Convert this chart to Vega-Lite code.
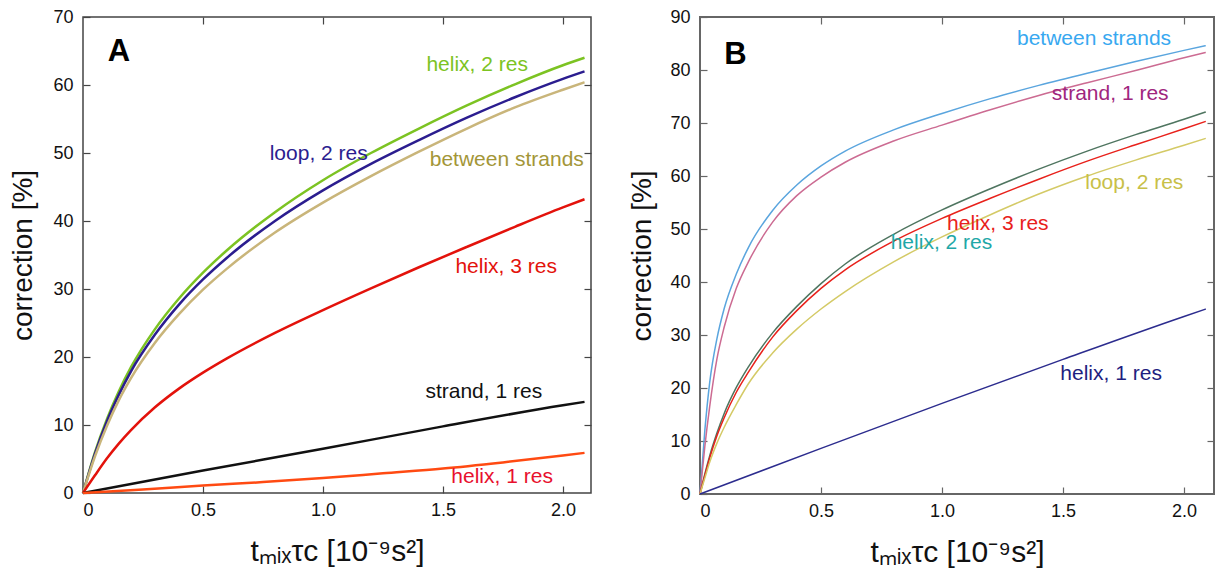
{
  "$schema": "https://vega.github.io/schema/vega-lite/v6.json",
  "padding": {"left": 9, "top": 7, "right": 0, "bottom": 0},
  "spacing": 34,
  "background": "white",
  "datasets": {
    "A": [
      {"series":"helix, 2 res","t":0,"corr":0},{"series":"helix, 2 res","t":0.05,"corr":6.0},{"series":"helix, 2 res","t":0.1,"corr":10.9},{"series":"helix, 2 res","t":0.15,"corr":15.0},{"series":"helix, 2 res","t":0.2,"corr":18.5},{"series":"helix, 2 res","t":0.3,"corr":24.1},{"series":"helix, 2 res","t":0.4,"corr":28.6},{"series":"helix, 2 res","t":0.5,"corr":32.4},{"series":"helix, 2 res","t":0.6,"corr":35.7},{"series":"helix, 2 res","t":0.8,"corr":41.3},{"series":"helix, 2 res","t":1.0,"corr":46.0},{"series":"helix, 2 res","t":1.2,"corr":50.0},{"series":"helix, 2 res","t":1.4,"corr":53.6},{"series":"helix, 2 res","t":1.6,"corr":57.0},{"series":"helix, 2 res","t":1.8,"corr":60.1},{"series":"helix, 2 res","t":2.0,"corr":62.9},{"series":"helix, 2 res","t":2.09,"corr":64.0},
      {"series":"loop, 2 res","t":0,"corr":0},{"series":"loop, 2 res","t":0.05,"corr":5.8},{"series":"loop, 2 res","t":0.1,"corr":10.55},{"series":"loop, 2 res","t":0.15,"corr":14.5},{"series":"loop, 2 res","t":0.2,"corr":17.9},{"series":"loop, 2 res","t":0.3,"corr":23.3},{"series":"loop, 2 res","t":0.4,"corr":27.7},{"series":"loop, 2 res","t":0.5,"corr":31.4},{"series":"loop, 2 res","t":0.6,"corr":34.6},{"series":"loop, 2 res","t":0.8,"corr":40.0},{"series":"loop, 2 res","t":1.0,"corr":44.5},{"series":"loop, 2 res","t":1.2,"corr":48.4},{"series":"loop, 2 res","t":1.4,"corr":51.9},{"series":"loop, 2 res","t":1.6,"corr":55.2},{"series":"loop, 2 res","t":1.8,"corr":58.2},{"series":"loop, 2 res","t":2.0,"corr":60.9},{"series":"loop, 2 res","t":2.09,"corr":62.0},
      {"series":"between strands","t":0,"corr":0},{"series":"between strands","t":0.05,"corr":5.4},{"series":"between strands","t":0.1,"corr":9.9},{"series":"between strands","t":0.15,"corr":13.7},{"series":"between strands","t":0.2,"corr":16.9},{"series":"between strands","t":0.3,"corr":22.1},{"series":"between strands","t":0.4,"corr":26.3},{"series":"between strands","t":0.5,"corr":29.9},{"series":"between strands","t":0.6,"corr":33.0},{"series":"between strands","t":0.8,"corr":38.3},{"series":"between strands","t":1.0,"corr":42.7},{"series":"between strands","t":1.2,"corr":46.6},{"series":"between strands","t":1.4,"corr":50.2},{"series":"between strands","t":1.6,"corr":53.6},{"series":"between strands","t":1.8,"corr":56.7},{"series":"between strands","t":2.0,"corr":59.3},{"series":"between strands","t":2.09,"corr":60.4},
      {"series":"helix, 3 res","t":0,"corr":0},{"series":"helix, 3 res","t":0.05,"corr":2.6},{"series":"helix, 3 res","t":0.1,"corr":5.1},{"series":"helix, 3 res","t":0.15,"corr":7.3},{"series":"helix, 3 res","t":0.2,"corr":9.25},{"series":"helix, 3 res","t":0.3,"corr":12.6},{"series":"helix, 3 res","t":0.4,"corr":15.35},{"series":"helix, 3 res","t":0.5,"corr":17.7},{"series":"helix, 3 res","t":0.6,"corr":19.8},{"series":"helix, 3 res","t":0.8,"corr":23.55},{"series":"helix, 3 res","t":1.0,"corr":26.9},{"series":"helix, 3 res","t":1.2,"corr":30.1},{"series":"helix, 3 res","t":1.4,"corr":33.2},{"series":"helix, 3 res","t":1.6,"corr":36.2},{"series":"helix, 3 res","t":1.8,"corr":39.15},{"series":"helix, 3 res","t":2.0,"corr":42.0},{"series":"helix, 3 res","t":2.09,"corr":43.2},
      {"series":"strand, 1 res","t":0,"corr":0},{"series":"strand, 1 res","t":0.5,"corr":3.3},{"series":"strand, 1 res","t":1.0,"corr":6.5},{"series":"strand, 1 res","t":1.5,"corr":9.8},{"series":"strand, 1 res","t":2.0,"corr":12.9},{"series":"strand, 1 res","t":2.09,"corr":13.4},
      {"series":"helix, 1 res","t":0,"corr":0},{"series":"helix, 1 res","t":0.25,"corr":0.5},{"series":"helix, 1 res","t":0.5,"corr":1.1},{"series":"helix, 1 res","t":0.75,"corr":1.6},{"series":"helix, 1 res","t":1.0,"corr":2.2},{"series":"helix, 1 res","t":1.25,"corr":2.9},{"series":"helix, 1 res","t":1.5,"corr":3.6},{"series":"helix, 1 res","t":1.75,"corr":4.5},{"series":"helix, 1 res","t":2.0,"corr":5.5},{"series":"helix, 1 res","t":2.09,"corr":5.9}
    ],
    "labA": [
      {"label":"helix, 2 res","t":1.431,"corr":63.0},
      {"label":"loop, 2 res","t":0.778,"corr":49.9},
      {"label":"between strands","t":1.445,"corr":49.0},
      {"label":"helix, 3 res","t":1.552,"corr":33.2},
      {"label":"strand, 1 res","t":1.427,"corr":14.8},
      {"label":"helix, 1 res","t":1.535,"corr":2.3}
    ],
    "panA": [{"label":"A","t":0.103,"corr":64.8}],
    "B": [
      {"series":"between strands","t":0,"corr":0},{"series":"between strands","t":0.02,"corr":12},{"series":"between strands","t":0.04,"corr":21},{"series":"between strands","t":0.07,"corr":29.3},{"series":"between strands","t":0.1,"corr":35},{"series":"between strands","t":0.15,"corr":41.5},{"series":"between strands","t":0.2,"corr":46.5},{"series":"between strands","t":0.3,"corr":53.5},{"series":"between strands","t":0.4,"corr":58.3},{"series":"between strands","t":0.5,"corr":61.9},{"series":"between strands","t":0.6,"corr":64.7},{"series":"between strands","t":0.8,"corr":68.7},{"series":"between strands","t":1.0,"corr":71.8},{"series":"between strands","t":1.2,"corr":74.6},{"series":"between strands","t":1.4,"corr":77.1},{"series":"between strands","t":1.6,"corr":79.4},{"series":"between strands","t":1.8,"corr":81.6},{"series":"between strands","t":2.0,"corr":83.7},{"series":"between strands","t":2.09,"corr":84.6},
      {"series":"strand, 1 res","t":0,"corr":0},{"series":"strand, 1 res","t":0.02,"corr":9},{"series":"strand, 1 res","t":0.04,"corr":16.5},{"series":"strand, 1 res","t":0.07,"corr":25.5},{"series":"strand, 1 res","t":0.1,"corr":31.5},{"series":"strand, 1 res","t":0.15,"corr":38.8},{"series":"strand, 1 res","t":0.2,"corr":43.8},{"series":"strand, 1 res","t":0.3,"corr":51.3},{"series":"strand, 1 res","t":0.4,"corr":56.3},{"series":"strand, 1 res","t":0.5,"corr":59.8},{"series":"strand, 1 res","t":0.6,"corr":62.6},{"series":"strand, 1 res","t":0.8,"corr":66.6},{"series":"strand, 1 res","t":1.0,"corr":69.6},{"series":"strand, 1 res","t":1.2,"corr":72.5},{"series":"strand, 1 res","t":1.4,"corr":75.2},{"series":"strand, 1 res","t":1.6,"corr":77.6},{"series":"strand, 1 res","t":1.8,"corr":79.9},{"series":"strand, 1 res","t":2.0,"corr":82.3},{"series":"strand, 1 res","t":2.09,"corr":83.3},
      {"series":"helix, 2 res","t":0,"corr":0},{"series":"helix, 2 res","t":0.02,"corr":3.8},{"series":"helix, 2 res","t":0.04,"corr":7.2},{"series":"helix, 2 res","t":0.07,"corr":11.5},{"series":"helix, 2 res","t":0.1,"corr":15.2},{"series":"helix, 2 res","t":0.15,"corr":20.1},{"series":"helix, 2 res","t":0.2,"corr":24.0},{"series":"helix, 2 res","t":0.3,"corr":30.4},{"series":"helix, 2 res","t":0.4,"corr":35.4},{"series":"helix, 2 res","t":0.5,"corr":39.7},{"series":"helix, 2 res","t":0.6,"corr":43.4},{"series":"helix, 2 res","t":0.8,"corr":49.0},{"series":"helix, 2 res","t":1.0,"corr":53.6},{"series":"helix, 2 res","t":1.2,"corr":57.6},{"series":"helix, 2 res","t":1.4,"corr":61.3},{"series":"helix, 2 res","t":1.6,"corr":64.7},{"series":"helix, 2 res","t":1.8,"corr":67.8},{"series":"helix, 2 res","t":2.0,"corr":70.7},{"series":"helix, 2 res","t":2.09,"corr":72.1},
      {"series":"helix, 3 res","t":0,"corr":0},{"series":"helix, 3 res","t":0.02,"corr":3.5},{"series":"helix, 3 res","t":0.04,"corr":6.8},{"series":"helix, 3 res","t":0.07,"corr":11},{"series":"helix, 3 res","t":0.1,"corr":14.4},{"series":"helix, 3 res","t":0.15,"corr":19.2},{"series":"helix, 3 res","t":0.2,"corr":23.0},{"series":"helix, 3 res","t":0.3,"corr":29.6},{"series":"helix, 3 res","t":0.4,"corr":34.6},{"series":"helix, 3 res","t":0.5,"corr":38.8},{"series":"helix, 3 res","t":0.6,"corr":42.3},{"series":"helix, 3 res","t":0.8,"corr":47.7},{"series":"helix, 3 res","t":1.0,"corr":52.0},{"series":"helix, 3 res","t":1.2,"corr":55.8},{"series":"helix, 3 res","t":1.4,"corr":59.4},{"series":"helix, 3 res","t":1.6,"corr":62.8},{"series":"helix, 3 res","t":1.8,"corr":65.9},{"series":"helix, 3 res","t":2.0,"corr":68.9},{"series":"helix, 3 res","t":2.09,"corr":70.3},
      {"series":"loop, 2 res","t":0,"corr":0},{"series":"loop, 2 res","t":0.02,"corr":3.0},{"series":"loop, 2 res","t":0.04,"corr":6.0},{"series":"loop, 2 res","t":0.07,"corr":9.6},{"series":"loop, 2 res","t":0.1,"corr":12.6},{"series":"loop, 2 res","t":0.15,"corr":16.9},{"series":"loop, 2 res","t":0.2,"corr":20.8},{"series":"loop, 2 res","t":0.3,"corr":26.6},{"series":"loop, 2 res","t":0.4,"corr":31.1},{"series":"loop, 2 res","t":0.5,"corr":34.9},{"series":"loop, 2 res","t":0.6,"corr":38.2},{"series":"loop, 2 res","t":0.8,"corr":43.8},{"series":"loop, 2 res","t":1.0,"corr":48.5},{"series":"loop, 2 res","t":1.2,"corr":52.7},{"series":"loop, 2 res","t":1.4,"corr":56.6},{"series":"loop, 2 res","t":1.6,"corr":60.0},{"series":"loop, 2 res","t":1.8,"corr":63.0},{"series":"loop, 2 res","t":2.0,"corr":65.8},{"series":"loop, 2 res","t":2.09,"corr":67.1},
      {"series":"helix, 1 res","t":0,"corr":0},{"series":"helix, 1 res","t":0.5,"corr":8.6},{"series":"helix, 1 res","t":1.0,"corr":17.1},{"series":"helix, 1 res","t":1.5,"corr":25.4},{"series":"helix, 1 res","t":2.0,"corr":33.5},{"series":"helix, 1 res","t":2.09,"corr":34.9}
    ],
    "labB": [
      {"label":"between strands","t":1.31,"corr":85.8},
      {"label":"strand, 1 res","t":1.454,"corr":75.4},
      {"label":"loop, 2 res","t":1.592,"corr":58.6},
      {"label":"helix, 3 res","t":1.021,"corr":50.9},
      {"label":"helix, 2 res","t":0.788,"corr":47.3},
      {"label":"helix, 1 res","t":1.489,"corr":22.6}
    ],
    "panB": [{"label":"B","t":0.1,"corr":82.8}]
  },
  "hconcat": [
    {
      "width": 508,
      "height": 476,
      "view": {"stroke": "#444444", "strokeWidth": 1.5},
      "layer": [
        {
          "data": {"name": "A"},
          "mark": {"type": "line", "strokeWidth": 2.5, "interpolate": "monotone"},
          "encoding": {
            "x": {"field": "t", "type": "quantitative", "scale": {"domain": [0, 2.117], "nice": false},
                  "axis": {"orient": "bottom", "values": [0, 0.5, 1, 1.5, 2], "labelExpr": "datum.value == 0 ? '0' : format(datum.value, '.1f')", "labelPadding": 15, "title": "tₘᵢₓτc [10⁻⁹s²]", "titleFontSize": 30, "titlePadding": 17}},
            "y": {"field": "corr", "type": "quantitative", "scale": {"domain": [0, 70], "nice": false},
                  "axis": {"orient": "left", "values": [0, 10, 20, 30, 40, 50, 60, 70], "labelPadding": 17, "title": "correction [%]", "titlePadding": 15}},
            "color": {"field": "series", "type": "nominal", "legend": null,
                      "scale": {"domain": ["helix, 2 res", "loop, 2 res", "between strands", "helix, 3 res", "strand, 1 res", "helix, 1 res"],
                                "range": ["#7cc322", "#2b1d8f", "#c9b57a", "#e3120b", "#111111", "#ff4a12"]}}
          }
        },
        {
          "data": {"name": "labA"},
          "mark": {"type": "text", "align": "left", "baseline": "middle", "font": "Liberation Sans", "fontSize": 21},
          "encoding": {
            "x": {"field": "t", "type": "quantitative", "scale": {"domain": [0, 2.117], "nice": false},
                  "axis": {"orient": "top", "values": [0.5, 1, 1.5, 2], "labels": false, "title": null}},
            "y": {"field": "corr", "type": "quantitative", "scale": {"domain": [0, 70], "nice": false},
                  "axis": {"orient": "right", "values": [10, 20, 30, 40, 50, 60], "labels": false, "title": null}},
            "text": {"field": "label"},
            "color": {"field": "label", "type": "nominal", "legend": null,
                      "scale": {"domain": ["helix, 2 res", "loop, 2 res", "between strands", "helix, 3 res", "strand, 1 res", "helix, 1 res"],
                                "range": ["#7cc322", "#2b1d8f", "#a39638", "#e3120b", "#111111", "#e8102e"]}}
          }
        },
        {
          "data": {"name": "panA"},
          "mark": {"type": "text", "align": "left", "baseline": "middle", "font": "Liberation Sans", "fontSize": 31, "fontWeight": "bold", "color": "#000000"},
          "encoding": {
            "x": {"field": "t", "type": "quantitative", "scale": {"domain": [0, 2.117], "nice": false}, "axis": null},
            "y": {"field": "corr", "type": "quantitative", "scale": {"domain": [0, 70], "nice": false}, "axis": null},
            "text": {"field": "label"}
          }
        }
      ],
      "resolve": {"scale": {"color": "independent"}, "axis": {"x": "independent", "y": "independent"}}
    },
    {
      "width": 514,
      "height": 477,
      "view": {"stroke": "#666666", "strokeWidth": 2},
      "layer": [
        {
          "data": {"name": "B"},
          "mark": {"type": "line", "strokeWidth": 1.5, "interpolate": "monotone"},
          "encoding": {
            "x": {"field": "t", "type": "quantitative", "scale": {"domain": [0, 2.124], "nice": false},
                  "axis": {"orient": "bottom", "values": [0, 0.5, 1, 1.5, 2], "labelExpr": "datum.value == 0 ? '0' : format(datum.value, '.1f')", "labelPadding": 15, "title": "tₘᵢₓτc [10⁻⁹s²]", "titleFontSize": 30, "titlePadding": 17, "tickColor": "#666666"}},
            "y": {"field": "corr", "type": "quantitative", "scale": {"domain": [0, 90], "nice": false},
                  "axis": {"orient": "left", "values": [0, 10, 20, 30, 40, 50, 60, 70, 80, 90], "labelPadding": 17, "title": "correction [%]", "titlePadding": 13, "tickColor": "#666666"}},
            "color": {"field": "series", "type": "nominal", "legend": null,
                      "scale": {"domain": ["between strands", "strand, 1 res", "helix, 2 res", "helix, 3 res", "loop, 2 res", "helix, 1 res"],
                                "range": ["#5aa5de", "#cc6b92", "#4f7560", "#e8211b", "#d4ca66", "#2c2c8e"]}}
          }
        },
        {
          "data": {"name": "labB"},
          "mark": {"type": "text", "align": "left", "baseline": "middle", "font": "Liberation Sans", "fontSize": 21},
          "encoding": {
            "x": {"field": "t", "type": "quantitative", "scale": {"domain": [0, 2.124], "nice": false},
                  "axis": {"orient": "top", "values": [0.5, 1, 1.5, 2], "labels": false, "title": null, "tickColor": "#666666"}},
            "y": {"field": "corr", "type": "quantitative", "scale": {"domain": [0, 90], "nice": false},
                  "axis": {"orient": "right", "values": [10, 20, 30, 40, 50, 60, 70, 80], "labels": false, "title": null, "tickColor": "#666666"}},
            "text": {"field": "label"},
            "color": {"field": "label", "type": "nominal", "legend": null,
                      "scale": {"domain": ["between strands", "strand, 1 res", "loop, 2 res", "helix, 3 res", "helix, 2 res", "helix, 1 res"],
                                "range": ["#38a8f0", "#a0267e", "#c8c048", "#e8211b", "#1fa8a8", "#1e1e80"]}}
          }
        },
        {
          "data": {"name": "panB"},
          "mark": {"type": "text", "align": "left", "baseline": "middle", "font": "Liberation Sans", "fontSize": 31, "fontWeight": "bold", "color": "#000000"},
          "encoding": {
            "x": {"field": "t", "type": "quantitative", "scale": {"domain": [0, 2.124], "nice": false}, "axis": null},
            "y": {"field": "corr", "type": "quantitative", "scale": {"domain": [0, 90], "nice": false}, "axis": null},
            "text": {"field": "label"}
          }
        }
      ],
      "resolve": {"scale": {"color": "independent"}, "axis": {"x": "independent", "y": "independent"}}
    }
  ],
  "resolve": {"scale": {"x": "independent", "y": "independent", "color": "independent"}},
  "config": {
    "axis": {
      "labelFont": "Liberation Sans", "labelFontSize": 18, "labelColor": "#111111",
      "titleFont": "Liberation Sans", "titleFontSize": 28, "titleFontWeight": "normal", "titleColor": "#111111",
      "tickColor": "#444444", "tickSize": -7, "tickWidth": 1.2, "domain": false, "grid": false, "labelPadding": 10
    }
  }
}
